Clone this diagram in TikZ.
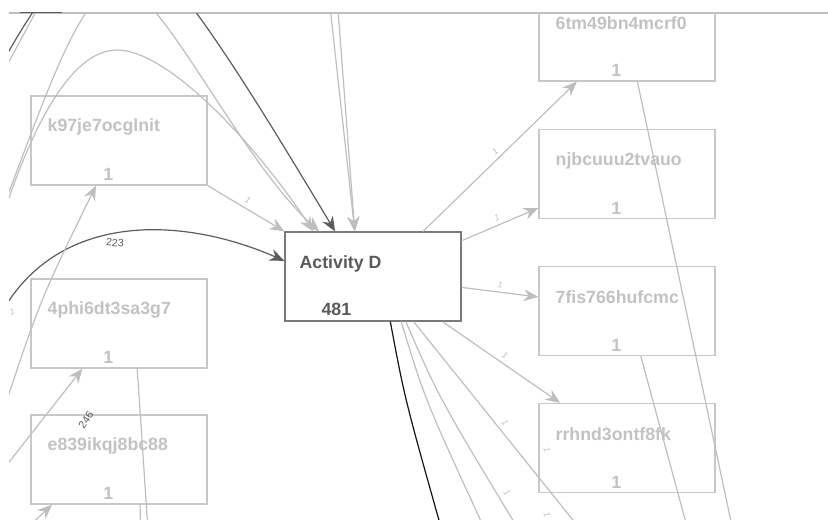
\documentclass[tikz,border=0pt]{standalone}
\usepackage{fontspec}
\setmainfont{Liberation Sans}
\usepackage{tikz}
\usetikzlibrary{arrows.meta}
\definecolor{pmBoxLine}{HTML}{C8C8C8}
\definecolor{pmBoxText}{HTML}{C2C2C2}
\definecolor{pmKeyLine}{HTML}{7A7A7A}
\definecolor{pmKeyText}{HTML}{5A5A5A}
\definecolor{pmEdge}{HTML}{BEBEBE}
\definecolor{pmDark}{HTML}{5C5C5C}
\definecolor{pmBlack}{HTML}{141414}
\tikzset{
  pm box/.style={draw=pmBoxLine, line width=0.9pt, minimum width=132pt,
    minimum height=66.75pt, inner sep=0pt},
  pm key box/.style={pm box, draw=pmKeyLine},
  pm name/.style={font=\bfseries\fontsize{13.3}{15}\selectfont, text=pmBoxText,
    anchor=west, inner sep=0pt},
  pm count/.style={pm name, anchor=center},
  pm edge/.style={draw=pmEdge, line width=0.9pt},
  pm arrow/.style={pm edge, -{Stealth[length=11pt,width=9pt]}},
  pm strong/.style={pm arrow, draw=pmDark},
  pm freq/.style={font=\itshape\fontsize{6.5}{7}\selectfont, text=pmEdge, inner sep=0pt},
  pm weight/.style={font=\fontsize{8}{9}\selectfont, text=pmDark, inner sep=0pt}
}
\begin{document}
\begin{tikzpicture}[x=0.75pt,y=-0.75pt]
\useasboundingbox (0,0) rectangle (828,519);
\draw[pmEdge, line width=0.8pt] (9,13) -- (828,13);
\draw[pmDark, line width=1.3pt] (20,12.5) -- (62,12.5);
\begin{scope}
\clip (9,13) rectangle (828,519);
% activities
\foreach \n/\x/\y/\t in {k97/119/140.5/k97je7ocglnit, phi/119/323.5/4phi6dt3sa3g7,
    eik/119/459.5/e839ikqj8bc88, tmb/627/36.5/6tm49bn4mcrf0, njb/627/174/njbcuuu2tvauo,
    fis/627/311/7fis766hufcmc, rrh/627/448/rrhnd3ontf8fk}{
  \node[pm box] (\n) at (\x,\y) {};
  \node[pm name] (\n-name) at ([xshift=12.75pt,yshift=-23.75pt]\n.north west) {\t};
  \node[pm count] (\n-count) at ([xshift=58.5pt,yshift=-59.5pt]\n.north west) {1};
}
\node[pm key box] (actD) at (373,276.5) {};
\node[pm name, text=pmKeyText] (actD-name) at ([xshift=11.25pt,yshift=-24.5pt]actD.north west) {Activity D};
\node[pm count, text=pmKeyText] (actD-count) at ([xshift=39pt,yshift=-58.75pt]actD.north west) {481};

% loose ends outside the view
\coordinate (inDark) at (-10,85);
\coordinate (inGrayA) at (-10,95);
\coordinate (outGrayA) at (70,-45);
\coordinate (inOuter) at (0,215);
\coordinate (inInner) at (0,225);
\coordinate (inTopA) at (326,-30);
\coordinate (inTopB) at (335,-30);
\coordinate (inMain) at (-5,325);
\coordinate (inK) at (-3,430);
\coordinate (inPhi) at (-5,480);
\coordinate (inEik) at (25,530);
\coordinate (outBlack) at (446,545);
\coordinate (outG1) at (492,545);
\coordinate (outG2) at (528,545);
\coordinate (outG3) at (593,545);
\coordinate (outTmb) at (736,545);
\coordinate (outFis) at (692,545);
\coordinate (outPhi) at (149,545);
\coordinate (outEik) at (141,545);

% into Activity D
\draw[pm arrow] (k97.south east) -- (actD.north west);
\draw[pm arrow] (inOuter) .. controls (45,100) and (80,-14) .. (121,-14)
  .. controls (160,-14) and (240,160) .. (actD.140);
\draw[pm arrow] (inInner) .. controls (30,130) and (70,50) .. (117,50)
  .. controls (170,50) and (260,150) .. (actD.143.4);
\draw[pm strong] (inDark) .. controls (20,30) and (70,-60) .. (118,-60)
  .. controls (160,-60) and (250,90) .. (actD.130.5);
\draw[pm edge] (inGrayA) .. controls (25,35) and (45,-10) .. (outGrayA);
\draw[pm arrow] (inTopA) -- (actD.112);
\draw[pm arrow] (inTopB) -- (actD.112);
\draw[pm strong] (inMain) .. controls (50,210) and (180,215) .. (actD.170.6);

% into the left activities
\draw[pm arrow] (inK) .. controls (40,300) .. (k97.243.7);
\draw[pm arrow] (inPhi) -- (phi.231);
\draw[pm arrow] (inEik) -- (eik.214.8);
\draw[pm edge] (phi.-68) -- (outPhi);
\draw[pm edge] (eik.-65.8) -- (outEik);

% out of Activity D
\draw[pm arrow] (actD.42.2) -- (tmb.222.2);
\draw[pm arrow] (actD.22.5) -- (njb.201.1);
\draw[pm arrow] (actD.-7.4) -- (fis.171);
\draw[pm arrow] (actD.-33.6) -- (rrh.146.9);
\draw[pmBlack, line width=0.9pt] (actD.-69.1) .. controls (405,400) .. (outBlack);
\draw[pm edge] (actD.-58.8) .. controls (425,400) .. (outG1);
\draw[pm edge] (actD.-54.3) .. controls (440,400) .. (outG2);
\draw[pm edge] (actD.-48.8) -- (outG3);
\draw[pm edge] (tmb.-77.3) -- (outTmb);
\draw[pm edge] (fis.-73.7) -- (outFis);

% frequencies
\node[pm weight, rotate=-5] (w223) at (115,243) {223};
\node[pm weight, rotate=55] (w246) at (86,420) {246};
\node[pm freq, rotate=-29] (fK) at (248,200) {1};
\node[pm freq, rotate=43] (fTmb) at (495,152) {1};
\node[pm freq, rotate=23] (fNjb) at (497,218) {1};
\node[pm freq, rotate=-7] (fFis) at (500,285) {1};
\node[pm freq, rotate=-34] (fRrh) at (505,355) {1};
\node[pm freq, rotate=-55] (fD1) at (505,423) {1};
\node[pm freq, rotate=-70] (fD2) at (547,450) {1};
\node[pm freq, rotate=-55] (fD3) at (507,493) {1};
\node[pm freq, rotate=-70] (fD4) at (547,515) {1};
\node[pm freq, rotate=20] (fLeft) at (12,312) {1};
\end{scope}
\end{tikzpicture}
\end{document}
